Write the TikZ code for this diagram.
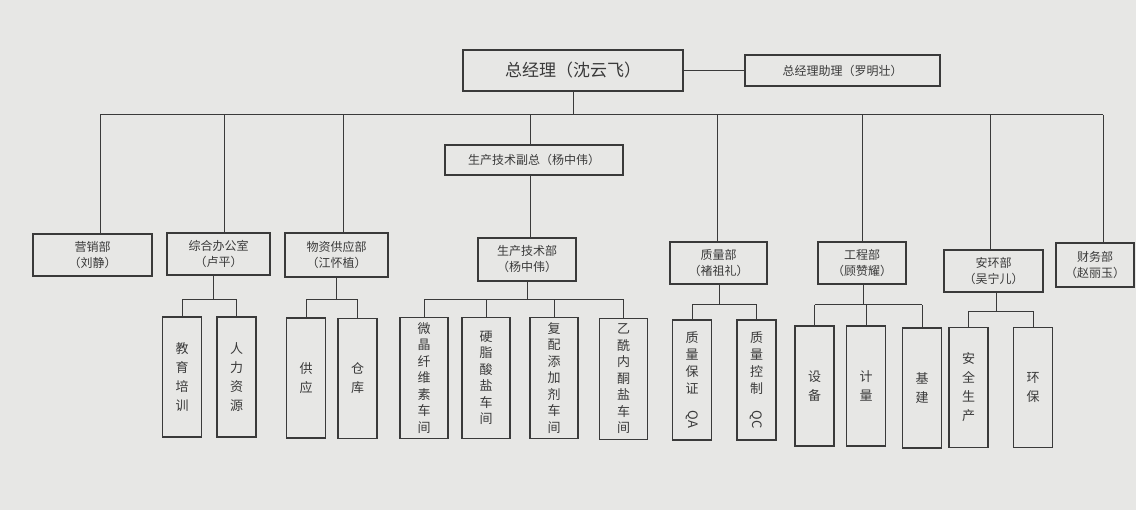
\documentclass[tikz,border=0pt]{standalone}
\usepackage{fontspec}
\setmainfont{Noto Sans CJK SC}
\definecolor{paper}{HTML}{E7E7E5}
\definecolor{ink}{HTML}{3A3A3A}
\tikzset{
  box/.style={draw=ink, line width=1.3pt, fill=paper, inner sep=0pt, align=center, text=ink},
  dept/.style={box, font=\fontsize{12}{16}\selectfont},
  tall/.style={box, minimum width=39pt, minimum height=120pt, font=\fontsize{13}{19}\selectfont},
  wtall/.style={box, minimum width=48pt, minimum height=121pt, font=\fontsize{13}{16.5}\selectfont},
  link/.style={draw=ink, line width=1pt}
}
\begin{document}
\begin{tikzpicture}[x=1pt,y=-1pt]
\useasboundingbox[fill=paper] (0,0) rectangle (1136,510);
% top level
\node[box, minimum width=220pt, minimum height=41pt, font=\fontsize{17}{20}\selectfont] (gm) at (573,70.5) {总经理（沈云飞）};
\node[box, minimum width=195pt, minimum height=31pt, font=\fontsize{12}{15}\selectfont] (asst) at (842.5,70.5) {总经理助理（罗明壮）};
\node[box, minimum width=178pt, minimum height=30pt, font=\fontsize{12}{15}\selectfont] (vp) at (534,160) {生产技术副总（杨中伟）};
% departments
\node[dept, minimum width=119pt, minimum height=42pt] (yx) at (92.5,255) {营销部\\（刘静）};
\node[dept, minimum width=103pt, minimum height=42pt] (zh) at (218.5,254) {综合办公室\\（卢平）};
\node[dept, minimum width=103pt, minimum height=44pt] (wz) at (336.5,255) {物资供应部\\（江怀植）};
\node[dept, minimum width=98pt, minimum height=43pt] (sc) at (527,259.5) {生产技术部\\（杨中伟）};
\node[dept, minimum width=97pt, minimum height=42pt] (zl) at (718.5,263) {质量部\\（褚祖礼）};
\node[dept, minimum width=88pt, minimum height=42pt] (gc) at (862,263) {工程部\\（顾赞耀）};
\node[dept, minimum width=99pt, minimum height=42pt] (ah) at (993.5,271) {安环部\\（吴宁儿）};
\node[dept, minimum width=78pt, minimum height=44pt] (cw) at (1095,265) {财务部\\（赵丽玉）};
% children
\node[tall] (jy) at (182,377) {教\\育\\培\\训};
\node[tall] (rl) at (236.5,377) {人\\力\\资\\源};
\node[tall] (gy) at (306,378) {供\\应};
\node[tall] (ck) at (357.5,378.5) {仓\\库};
\node[wtall] (wj) at (424,378) {微\\晶\\纤\\维\\素\\车\\间};
\node[wtall] (yz) at (486,378) {硬\\脂\\酸\\盐\\车\\间};
\node[wtall] (fp) at (554,378) {复\\配\\添\\加\\剂\\车\\间};
\node[wtall] (yx2) at (623.5,379) {乙\\酰\\内\\酮\\盐\\车\\间};
\node[tall, font=\fontsize{13}{17}\selectfont] (qa) at (692,380) {质\\量\\保\\证\\\rotatebox{-90}{QA}};
\node[tall, font=\fontsize{13}{17}\selectfont] (qc) at (756.5,380) {质\\量\\控\\制\\\rotatebox{-90}{QC}};
\node[tall] (sb) at (814.5,386) {设\\备};
\node[tall] (jl) at (866,386) {计\\量};
\node[tall] (jj) at (922,388) {基\\建};
\node[tall] (aq) at (968.5,387.5) {安\\全\\生\\产};
\node[tall] (hb) at (1033,387.5) {环\\保};
% top connectors
\draw[link] (gm.east) -- (asst.west);
\coordinate (bus) at (573,115);
\draw[link] (gm.south) -- (bus);
\coordinate (bl) at (100,115);
\coordinate (br) at (1103,115);
\draw[link] (bl) -- (br);
\draw[link] (bl) -- (yx.north -| bl);
\foreach \n/\x in {zh/224, wz/343, zl/717, gc/862, ah/990}{
  \draw[link] (\x,115) -- (\n.north -| \x,0);
}
\draw[link] (br) -- (cw.north -| br);
\draw[link] (vp.north -| 530,0) -- (530,115);
\draw[link] (vp.south -| 530,0) -- (sc.north -| 530,0);
% group connectors
\draw[link] (zh.south -| 213,0) -- (213,300);
\draw[link] (jy.north) -- (jy.north |- 0,300) -- (rl.north |- 0,300) -- (rl.north);
\draw[link] (wz.south -| 336,0) -- (336,300);
\draw[link] (gy.north) -- (gy.north |- 0,300) -- (ck.north |- 0,300) -- (ck.north);
\draw[link] (sc.south -| 527,0) -- (527,300);
\draw[link] (wj.north |- 0,300) -- (yx2.north |- 0,300);
\foreach \n in {wj,yz,fp,yx2}{ \draw[link] (\n.north) -- (\n.north |- 0,300); }
\draw[link] (zl.south -| 719,0) -- (719,305);
\draw[link] (qa.north) -- (qa.north |- 0,305) -- (qc.north |- 0,305) -- (qc.north);
\draw[link] (gc.south -| 863,0) -- (863,305);
\draw[link] (sb.north |- 0,305) -- (jj.north |- 0,305);
\foreach \n in {sb,jl,jj}{ \draw[link] (\n.north) -- (\n.north |- 0,305); }
\draw[link] (ah.south -| 996,0) -- (996,312);
\draw[link] (aq.north) -- (aq.north |- 0,312) -- (hb.north |- 0,312) -- (hb.north);
\end{tikzpicture}
\end{document}
